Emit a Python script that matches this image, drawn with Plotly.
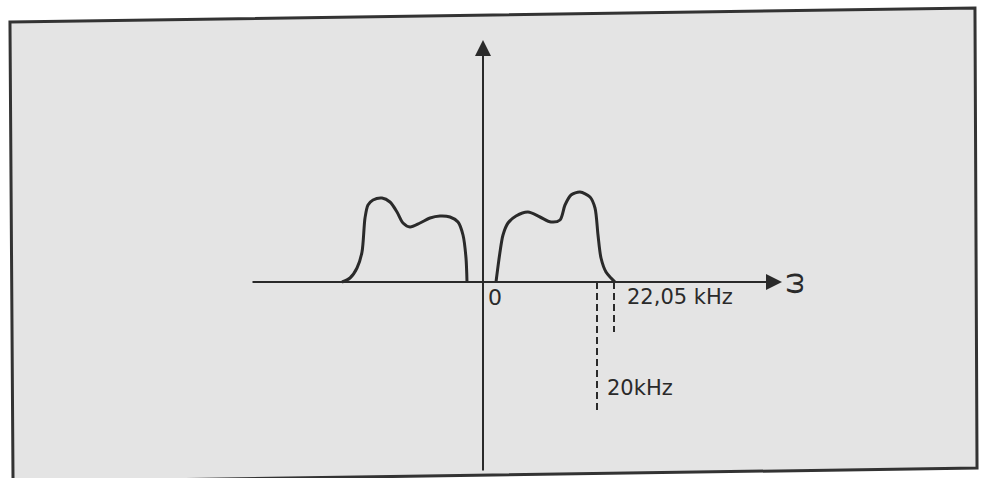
import plotly.graph_objects as go

# Spectrum drawing (schematic units: origin at 0, amplitude up)
right_lobe_x = [13, 17, 20, 25, 33, 45, 57, 68, 77, 82, 88, 97, 107, 112, 115, 118, 123, 128, 132]
right_lobe_y = [0, 30, 47, 59, 66, 70, 65, 60, 62, 77, 87, 90, 85, 74, 47, 24, 10, 4, 0]
left_lobe_x = [-141, -133, -126, -121, -118, -115, -110, -101, -93, -86, -80, -73, -63, -53, -43, -33, -25, -20, -17, -16]
left_lobe_y = [0, 4, 14, 30, 64, 77, 82, 84, 80, 70, 59, 55, 59, 64, 66, 65, 60, 47, 24, 0]

# frequency markers (dashed lines) and their labels
marker_x = [114, 131]
marker_depth = [-128, -50]
marker_labels = ["20kHz", "22,05 kHz"]
label_pos = [(122, -106), (142, -15)]

# axis extents
h_axis = (-232, 299)
v_axis = (-190, 242)

INK = "#2a2a2a"
W, H = 987, 478

fig = go.Figure()

for xs, ys in [(left_lobe_x, left_lobe_y), (right_lobe_x, right_lobe_y)]:
    fig.add_trace(go.Scatter(x=xs, y=ys, mode="lines",
                             line=dict(color=INK, width=3, shape="spline", smoothing=0.8),
                             hoverinfo="skip", showlegend=False))

for mx, md in zip(marker_x, marker_depth):
    fig.add_trace(go.Scatter(x=[mx, mx], y=[0, md], mode="lines",
                             line=dict(color=INK, width=2, dash="7px,4px"),
                             hoverinfo="skip", showlegend=False))

# axes with arrows
fig.add_annotation(x=h_axis[1], y=0, ax=h_axis[0], ay=0, xref="x", yref="y", axref="x", ayref="y",
                   text="", showarrow=True, arrowhead=2, arrowsize=1.6, arrowwidth=2, arrowcolor=INK)
fig.add_annotation(x=0, y=v_axis[1], ax=0, ay=v_axis[0], xref="x", yref="y", axref="x", ayref="y",
                   text="", showarrow=True, arrowhead=2, arrowsize=1.6, arrowwidth=2, arrowcolor=INK)

font = dict(family="DejaVu Sans", size=21, color=INK)
for (lx, ly), txt in zip(label_pos, marker_labels):
    fig.add_annotation(x=lx, y=ly, text=txt, showarrow=False, xanchor="left", yanchor="middle", font=font)
fig.add_annotation(x=12, y=-15, text="0", showarrow=False, xanchor="center", yanchor="middle",
                   font=dict(family="DejaVu Sans", size=22, color=INK))
fig.add_annotation(x=310, y=-2, text="ω", showarrow=False, textangle=-90, xanchor="center", yanchor="middle",
                   font=dict(family="DejaVu Sans", size=28, color=INK))

# frame of the printed figure (slightly skewed scan)
def px(x, y):
    return f"{x / W:.4f},{1 - y / H:.4f}"

frame_path = f"M {px(10, 22)} L {px(975, 8)} L {px(977, 468)} L {px(13, 482)} Z"
fig.add_shape(type="path", xref="paper", yref="paper", path=frame_path,
              line=dict(color="#333333", width=3), fillcolor="#e4e4e4", layer="below")

fig.update_layout(
    width=W, height=H, margin=dict(l=0, r=0, t=0, b=0),
    paper_bgcolor="white", plot_bgcolor="rgba(0,0,0,0)",
    xaxis=dict(range=[-483, 504], visible=False, fixedrange=True),
    yaxis=dict(range=[-196, 282], visible=False, fixedrange=True),
    showlegend=False,
)

fig.write_html("out.html", config={"displayModeBar": False},
               post_script="document.body.style.margin='0';document.body.style.overflow='hidden';")
